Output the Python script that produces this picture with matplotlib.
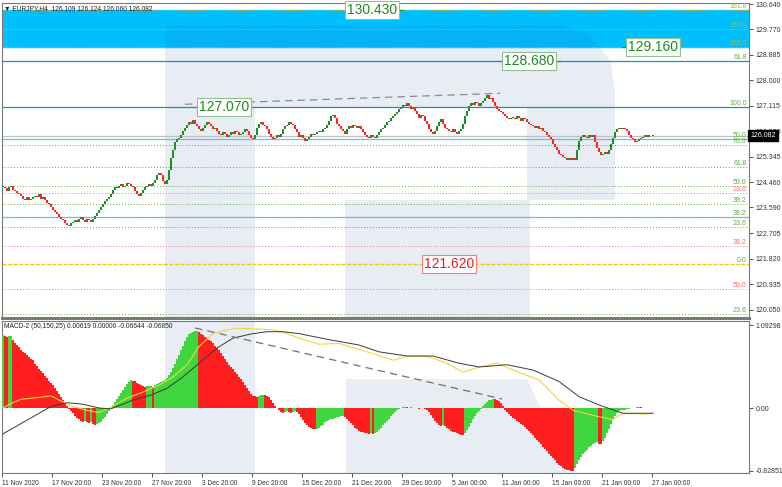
import matplotlib
matplotlib.use('Agg')
import matplotlib.pyplot as plt
import matplotlib.transforms as mtransforms
from matplotlib.patches import Polygon
import numpy as np

plt.rcParams['font.family'] = ['Liberation Sans', 'DejaVu Sans']

# EURJPY H4 - closes of each bar
closes = [
    124.30, 124.25, 124.15, 124.30, 124.35,
    124.20, 124.15, 124.10, 124.05, 124.00,
    123.90, 123.85, 123.95, 123.85, 123.90, 123.95,
    124.00, 123.95, 124.05, 123.90, 123.95,
    123.85, 123.75, 123.70, 123.60, 123.50, 123.45, 123.35, 123.25, 123.20, 123.15,
    123.05, 123.00, 122.95, 123.05,
    123.10, 123.15, 123.10, 123.20, 123.25, 123.15, 123.10, 123.20, 123.15, 123.10, 123.20,
    123.30, 123.40, 123.50, 123.60, 123.70, 123.80, 123.90, 123.95, 124.05,
    124.20, 124.30, 124.25, 124.35, 124.40, 124.30, 124.35, 124.45, 124.40, 124.35, 124.30,
    124.15, 124.05, 124.00, 124.10, 124.20,
    124.30, 124.35, 124.40, 124.35, 124.45,
    124.55, 124.70, 124.80, 124.70, 124.50, 124.40, 124.55,
    124.90, 125.30, 125.60, 125.85, 125.95, 126.00, 126.10,
    126.25, 126.35, 126.45, 126.55, 126.50, 126.62,
    126.50, 126.40, 126.30, 126.25, 126.35, 126.45, 126.55, 126.50, 126.40, 126.30,
    126.35, 126.25, 126.15, 126.10, 126.20, 126.15, 126.05, 126.10, 126.20, 126.15,
    126.25, 126.20, 126.10, 126.15, 126.20, 126.30, 126.25, 126.10, 126.00, 125.95,
    126.10, 126.35, 126.50, 126.55, 126.45, 126.40, 126.30, 126.15,
    126.05, 125.95, 126.00, 126.10, 126.05, 126.15, 126.30, 126.40, 126.45,
    126.55, 126.50, 126.45, 126.30, 126.20,
    126.05, 126.10, 126.00, 125.90, 125.95, 126.05, 126.15, 126.10,
    126.15, 126.20, 126.25, 126.20, 126.30, 126.35, 126.45, 126.60, 126.75, 126.80,
    126.70, 126.50, 126.40, 126.30, 126.25, 126.15, 126.30,
    126.40, 126.35, 126.45, 126.40, 126.35, 126.40, 126.30,
    126.20, 126.10, 126.05, 126.00, 126.10, 126.05, 126.00, 126.10,
    126.20, 126.30, 126.35, 126.45, 126.55, 126.60, 126.70, 126.75, 126.85, 126.90,
    127.00, 127.05, 127.15, 127.10, 127.20,
    127.10, 127.00, 127.05, 126.95, 126.85, 126.70, 126.80, 126.75, 126.60, 126.50,
    126.30, 126.20, 126.15, 126.25, 126.40, 126.55, 126.65, 126.50, 126.35, 126.30,
    126.25, 126.20, 126.30, 126.20, 126.15, 126.25, 126.30,
    126.50, 126.75, 126.95, 127.10, 127.20,
    127.15, 127.25, 127.20, 127.10, 127.20, 127.30, 127.40, 127.48, 127.35, 127.40, 127.25,
    127.10, 127.00, 126.95, 126.90, 126.85, 126.75, 126.70, 126.65, 126.70,
    126.70, 126.65, 126.75, 126.70, 126.60, 126.70, 126.65, 126.55,
    126.50, 126.45, 126.40, 126.35, 126.40, 126.30, 126.35, 126.25,
    126.20, 126.10, 126.05, 125.95, 125.80,
    125.70, 125.60, 125.45, 125.40, 125.35,
    125.30, 125.25, 125.30, 125.25, 125.30, 125.25,
    125.60, 125.90, 126.05,
    126.10, 126.05, 126.00, 126.10, 126.05, 126.10,
    125.85, 125.65, 125.50, 125.40,
    125.45, 125.50, 125.45,
    125.60, 125.80, 126.00, 126.20, 126.30,
    126.35, 126.30, 126.35, 126.30, 126.25,
    126.10, 126.00, 125.95, 125.85, 125.90, 125.95, 126.00,
    126.05, 126.10, 126.05, 126.10, 126.08, 126.082,
]

# MACD-2 histogram per bar
macd_hist = [
    0.96, 0.95, 0.94, 0.945, 0.95, 0.90, 0.86, 0.83, 0.80, 0.77,
    0.74, 0.72, 0.70, 0.67, 0.65, 0.63, 0.58, 0.55, 0.52, 0.49, 0.46,
    0.42, 0.39, 0.36, 0.33, 0.30, 0.26, 0.23, 0.19, 0.15, 0.11,
    0.07, 0.03, -0.01, -0.04, -0.07, -0.10, -0.13, -0.15, -0.17,
    -0.18, -0.175, -0.19, -0.20, -0.19, -0.21, -0.22, -0.21, -0.20, -0.18,
    -0.15, -0.12, -0.08, -0.04, 0.00, 0.04, 0.08, 0.12, 0.16, 0.20,
    0.24, 0.28, 0.31, 0.34, 0.37, 0.36, 0.35, 0.33, 0.32, 0.30,
    0.29, 0.28, 0.285, 0.29, 0.295, 0.28, 0.30, 0.31, 0.33, 0.34, 0.35, 0.37,
    0.40, 0.44, 0.48, 0.53, 0.58, 0.64, 0.70, 0.76, 0.82, 0.88, 0.93, 0.97,
    0.99, 1.00, 1.01, 1.02, 1.00, 0.98, 0.96, 0.94, 0.92, 0.90,
    0.88, 0.85, 0.82, 0.79, 0.76, 0.72, 0.68, 0.64, 0.60, 0.57, 0.54, 0.51, 0.48, 0.45,
    0.41, 0.38, 0.34, 0.30, 0.26, 0.22, 0.18, 0.16, 0.155, 0.15, 0.16, 0.165, 0.17, 0.165,
    0.16, 0.14, 0.10, 0.06, 0.03, 0.00, -0.03, -0.05, -0.06, -0.05, -0.04,
    -0.05, -0.06, -0.05, -0.04, -0.05, -0.08, -0.12, -0.16, -0.20, -0.23, -0.25,
    -0.26, -0.27, -0.28, -0.27, -0.26, -0.24, -0.22, -0.19, -0.17,
    -0.16, -0.15, -0.14, -0.13, -0.12, -0.115, -0.11, -0.105, -0.12,
    -0.14, -0.17, -0.20, -0.23, -0.26, -0.28, -0.30,
    -0.31, -0.32, -0.33, -0.335, -0.34, -0.33, -0.34,
    -0.33, -0.31, -0.29, -0.26, -0.23, -0.20, -0.17, -0.14, -0.11, -0.08, -0.05, -0.03,
    -0.01, 0.005, 0.01, 0.015, 0.01, 0.005, 0.01, 0.005,
    0.0, -0.005, -0.01, -0.005, 0.0, -0.01, -0.02,
    -0.05, -0.09, -0.13, -0.17, -0.20, -0.23, -0.24, -0.22, -0.24, -0.26, -0.28, -0.30,
    -0.31, -0.32, -0.33, -0.34, -0.35, -0.36, -0.33, -0.29, -0.25, -0.20, -0.15,
    -0.11, -0.07, -0.04, -0.01, 0.02, 0.05, 0.08, 0.10, 0.11, 0.12,
    0.115, 0.11, 0.09, 0.06, 0.02, -0.02, -0.05, -0.08, -0.11, -0.13, -0.15,
    -0.17, -0.19, -0.21, -0.23, -0.25, -0.27, -0.30, -0.33, -0.36, -0.39, -0.42, -0.45,
    -0.48, -0.51, -0.54, -0.57, -0.60, -0.63, -0.66, -0.69, -0.72, -0.75, -0.77, -0.79,
    -0.80, -0.81, -0.82, -0.825, -0.83, -0.79, -0.74, -0.69, -0.65, -0.61,
    -0.58, -0.55, -0.52, -0.50, -0.48, -0.46, -0.45, -0.47, -0.48,
    -0.44, -0.39, -0.33, -0.27, -0.21, -0.15, -0.10, -0.06, -0.04, -0.03, -0.02,
    -0.02, -0.015, -0.01, -0.005, 0.0, 0.005, 0.01,
    0.012, 0.008, 0.005, 0.003, 0.005, 0.006, 0.006, 0.00619,
]

# MACD lines, (bar, value) pairs
black_bar = [0, 24, 32, 40, 48, 54, 65, 74, 82, 90, 98, 107, 115, 124, 132, 140, 148,
             163, 178, 188, 202, 215, 228, 238, 252, 265, 278, 288, 298, 310, 325]
black_val = [-0.34, 0.02, 0.07, 0.05, 0.0, -0.01, 0.105, 0.17, 0.26, 0.41, 0.59, 0.79,
             0.92, 0.975, 1.005, 1.005, 0.98, 0.90, 0.83, 0.74, 0.685, 0.685, 0.59, 0.54,
             0.57, 0.50, 0.35, 0.15, 0.04, -0.07, -0.0685]
yellow_bar = [0, 4, 9, 18, 24, 28, 35, 42, 48, 53, 62, 70, 78, 85, 92, 98, 105, 112, 118,
              128, 135, 142, 148, 158, 168, 182, 195, 202, 212, 222, 230, 238, 247, 255,
              268, 278, 285, 297, 305, 310, 322, 325]
yellow_val = [0.0, 0.06, 0.115, 0.14, 0.16, 0.105, 0.02, -0.03, -0.06, 0.0, 0.13, 0.21,
              0.30, 0.41, 0.57, 0.81, 0.98, 1.03, 1.05, 1.04, 1.03, 0.98, 0.92, 0.84, 0.85,
              0.74, 0.63, 0.68, 0.68, 0.59, 0.47, 0.54, 0.59, 0.50, 0.37, 0.105, -0.03,
              -0.11, -0.15, -0.07, -0.08, -0.0664]

# fibo levels on the right side
level_price = [130.43, 129.795, 129.16, 128.68, 127.07, 125.96, 125.77, 125.00, 124.35,
               124.08, 123.71, 123.25, 122.91, 122.25, 121.62, 120.75, 119.90]
level_tag = ['161.8', '150.0', '138.2', '61.8', '100.0', '50.0', '76.0', '61.8', '50.0',
             '23.6', '38.2', '38.2', '23.6', '38.2', '0.0', '50.0', '23.6']
level_kind = ['band', 'band', 'band', 'blue', 'blue', 'light', 'green', 'green', 'green',
              'red', 'green', 'light', 'green', 'red', 'yellow', 'red', 'green']

boxed_price = [130.430, 129.160, 128.680, 127.070, 121.620]
boxed_bar = [184.5, 325, 263, 110.5, 223]
boxed_red = [False, False, False, False, True]

price_ticks = [130.640, 129.770, 128.885, 128.000, 127.115, 126.230, 125.345, 124.460,
               123.590, 122.705, 121.820, 120.935, 120.050]
macd_ticks = [1.09298, 0.0, -0.82851]
macd_tick_labels = ['1.09298', '0.00', '-0.82851']
date_labels = ['11 Nov 2020', '17 Nov 20:00', '23 Nov 20:00', '27 Nov 20:00', '3 Dec 20:00',
               '9 Dec 20:00', '15 Dec 20:00', '21 Dec 20:00', '29 Dec 00:00', '5 Jan 00:00',
               '11 Jan 00:00', '15 Jan 00:00', '21 Jan 00:00', '27 Jan 00:00']

GREEN_C = '#1e8f26'
RED_C = '#ff2424'
LBL_GREEN = '#5fae3f'
LBL_BAND = '#9fba3a'
LBL_RED = '#ff6b6b'
FS = 5.0

fig = plt.figure(figsize=(7.82, 4.87), dpi=100)
W, H = 782, 487


def px_axes(l, t, r, b):
    return fig.add_axes([l / W, 1 - b / H, (r - l) / W, (b - t) / H])


ax = px_axes(2, 3, 749, 318)
ax2 = px_axes(2, 321, 749, 473)

n = len(closes)
x = np.arange(n)
xlim = (-0.5, 373)

# watermark "R" in pixel coords
pix = mtransforms.Affine2D().scale(0.01, -0.01).translate(0, 4.87) + fig.dpi_scale_trans
wm_shapes = [
    [(165, 25), (560, 25), (590, 35), (610, 60), (615, 90), (615, 200), (527, 200),
     (527, 107), (255, 107), (255, 480), (165, 480)],
    [(345, 200), (530, 200), (530, 318), (345, 318)],
    [(346, 379), (527, 379), (575, 480), (346, 480)],
]
for a in (ax, ax2):
    for pts in wm_shapes:
        a.add_patch(Polygon(pts, closed=True, transform=pix, facecolor='#1f4e8c',
                            alpha=0.1, edgecolor='none', zorder=1))

# main panel
ax.axhspan(129.16, 130.43, color='#00bfff', zorder=0.5)
for p, tag, kind in zip(level_price, level_tag, level_kind):
    tc = LBL_GREEN
    if kind == 'band':
        ax.axhline(p, color='#e8c832', lw=0.6, ls=(0, (1, 1.5)), zorder=2)
        tc = LBL_BAND
    elif kind == 'blue':
        ax.axhline(p, color='#1b8fc2', lw=0.9, zorder=2)
    elif kind == 'light':
        ax.axhline(p, color='#55b8e6', lw=0.9, zorder=2)
        ax.axhline(p, color='#e8d020', lw=0.6, ls=(0, (1, 2)), zorder=2.1)
    elif kind == 'green':
        ax.axhline(p, color='#5fae3f', lw=0.7, ls=(0, (1, 2)), zorder=2)
    elif kind == 'red':
        ax.axhline(p, color='#ff7b7b', lw=0.7, ls=(0, (1, 2)), zorder=2)
        tc = LBL_RED
    else:
        ax.axhline(p, color='#e2cf1e', lw=1.0, ls=(0, (3, 1)), zorder=2)
    ax.text(0.997, p, tag, transform=ax.get_yaxis_transform(), ha='right', va='bottom',
            fontsize=FS, color=tc, zorder=3)
ax.axhline(closes[-1], color='#c0c0c0', lw=0.9, zorder=2)

opens = np.array([closes[0]] + closes[:-1])
cl = np.array(closes)
up = cl >= opens
body = np.where(np.abs(cl - opens) < 0.02, 0.02, cl - opens)
ax.bar(x[up], body[up], bottom=opens[up], width=0.55, color=GREEN_C, zorder=4)
ax.bar(x[~up], body[~up], bottom=opens[~up], width=0.55, color=RED_C, zorder=4)

# dashed trend line over the highs
ax.plot([91, 248.5], [127.17, 127.55], color='#8a8a8a', lw=0.9, ls=(0, (6, 4)), zorder=3)

# short level stubs next to the price boxes
stubs = [((197, 200), 130.43), ((309.5, 312.5), 129.16), ((247.5, 250.5), 128.68),
         ((276, 279), 128.68)]
for (x0, x1), p in stubs:
    ax.plot([x0, x1], [p, p], color='#2e8b2e', lw=0.8, zorder=5)

for p, b, red in zip(boxed_price, boxed_bar, boxed_red):
    c = '#e02020' if red else '#1f8a1f'
    ec = '#f08080' if red else '#8fc08f'
    ax.text(b, p, '%.3f' % p, ha='center', va='center', fontsize=10, color=c,
            zorder=6, bbox=dict(boxstyle='square,pad=0.15', fc='white', ec=ec, lw=0.8))

ax.set_xlim(*xlim)
ax.set_ylim(119.757, 130.683)
ax.set_xticks([])
ax.yaxis.tick_right()
ax.set_yticks(price_ticks)
ax.set_yticklabels(['%.3f' % v for v in price_ticks])
ax.tick_params(axis='y', length=3, width=0.6, pad=1.5, labelsize=FS, colors='#333333')
ax.text(1.002, closes[-1], '%.3f' % closes[-1], transform=ax.get_yaxis_transform(),
        ha='left', va='center', fontsize=FS, color='white', zorder=7,
        bbox=dict(boxstyle='square,pad=0.3', fc='black', ec='black'))
ax.set_facecolor('white')
for s in ax.spines.values():
    s.set_color('#7a7a7a')
    s.set_linewidth(0.8)
ax.spines['bottom'].set_linewidth(2.2)

ax.text(0.003, 0.995, '\u25bc EURJPY,H4  126.109 126.124 126.060 126.082',
        transform=ax.transAxes, ha='left', va='top', fontsize=4.8, color='#222222', zorder=8)

# MACD panel
h = np.array(macd_hist)
rising = np.concatenate([[True], h[1:] >= h[:-1]])
ax2.bar(np.arange(len(h)), h, width=0.75, color=np.where(rising, '#3fd63f', '#ff1f1f'),
        zorder=3)
ax2.plot(yellow_bar, yellow_val, color='#f5d53f', lw=0.8, zorder=4)
ax2.plot(black_bar, black_val, color='#3a3a3a', lw=0.7, zorder=4)
ax2.plot([96, 249.5], [1.054, 0.119], color='#707070', lw=0.9, ls=(0, (6, 4)), zorder=4)

ax2.set_xlim(*xlim)
ax2.set_ylim(-0.856, 1.146)
ax2.yaxis.tick_right()
ax2.set_yticks(macd_ticks)
ax2.set_yticklabels(macd_tick_labels)
ax2.tick_params(axis='y', length=3, width=0.6, pad=1.5, labelsize=FS, colors='#333333')
ax2.set_xticks([25 * k - 0.5 for k in range(len(date_labels))])
ax2.set_xticklabels(date_labels, ha='left')
ax2.tick_params(axis='x', length=3, width=0.6, pad=2, labelsize=4.8, colors='#333333')
for s in ax2.spines.values():
    s.set_color('#7a7a7a')
    s.set_linewidth(0.8)
ax2.text(0.003, 0.985, 'MACD-2 (50,150,25) 0.00619 0.00000 -0.06644 -0.06850',
         transform=ax2.transAxes, ha='left', va='top', fontsize=4.8, color='#222222',
         zorder=8)

fig.savefig('out.png', dpi=100)
